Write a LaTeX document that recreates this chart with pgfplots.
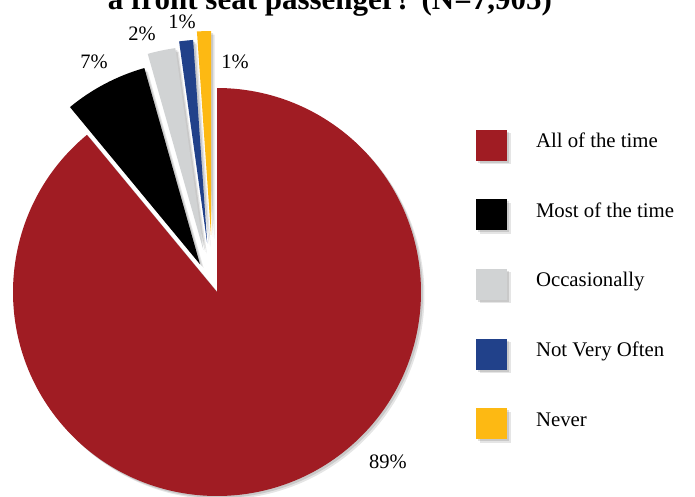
\documentclass[border=0pt]{standalone}
\usepackage{fontspec}
\setmainfont{Liberation Serif}
\usepackage{pgfplots}
\pgfplotsset{compat=1.18}
\usetikzlibrary{calc}
\definecolor{c1}{HTML}{A01C23}
\definecolor{c2}{HTML}{000000}
\definecolor{c3}{HTML}{D1D3D4}
\definecolor{c4}{HTML}{21418A}
\definecolor{c5}{HTML}{FDB913}
% #1 cumulative percent before slice, #2 percent, #3 explode distance (bp), #4 explode direction (deg), #5 colour
\newcommand\sliceshadow[4]{%
  \fill[black,opacity=0.10] ($(axis cs:217,205)+(#4:#3bp)+(3.5bp,-3.5bp)$) -- ++({90+3.6*#1}:204bp)
    arc[start angle={90+3.6*#1}, end angle={90+3.6*(#1+#2)}, radius=204bp] -- cycle;
  \fill[black,opacity=0.12] ($(axis cs:217,205)+(#4:#3bp)+(2bp,-2bp)$) -- ++({90+3.6*#1}:204bp)
    arc[start angle={90+3.6*#1}, end angle={90+3.6*(#1+#2)}, radius=204bp] -- cycle;}
\newcommand\slicefill[5]{%
  \fill[#5] ($(axis cs:217,205)+(#4:#3bp)$) -- ++({90+3.6*#1}:204bp)
    arc[start angle={90+3.6*#1}, end angle={90+3.6*(#1+#2)}, radius=204bp] -- cycle;}
\begin{document}
\begin{tikzpicture}
\useasboundingbox (0,0) rectangle (695bp,497bp);
\clip (0,0) rectangle (695bp,497bp);
\begin{axis}[
  at={(0,0)}, anchor=south west,
  x=1bp, y=1bp, xmin=0, xmax=695, ymin=0, ymax=497,
  hide axis, clip=false,
  legend cell align=left,
  legend image code/.code={%
    \fill[black,opacity=0.10] (3.5bp,-19bp) rectangle (34.5bp,12bp);
    \fill[black,opacity=0.12] (2bp,-17.5bp) rectangle (33bp,13.5bp);
    \fill[#1] (0bp,-15.5bp) rectangle (31bp,15.5bp);},
  legend style={at={(axis cs:476,367.5)}, anchor=north west, draw=none, fill=none,
    inner sep=0pt, outer sep=0pt, row sep=35.2bp, column sep=25.5bp,
    font=\fontsize{20.8bp}{24bp}\selectfont,
    nodes={inner sep=0pt, text height=0.75em, text depth=0.25em}},
]
% data: All of the time 89.0, Most of the time 6.6, Occasionally 2.2, Not Very Often 1.1, Never 1.1
\sliceshadow{11}{89}{0}{0}
\sliceshadow{4.4}{6.6}{32.5}{121.5}
\sliceshadow{2.2}{2.2}{44}{108}
\sliceshadow{1.1}{1.1}{49.5}{101.4}
\sliceshadow{0}{1.1}{57.3}{96}
\slicefill{11}{89}{0}{0}{c1}
\slicefill{4.4}{6.6}{32.5}{121.5}{c2}
\slicefill{2.2}{2.2}{44}{108}{c3}
\slicefill{1.1}{1.1}{49.5}{101.4}{c4}
\slicefill{0}{1.1}{57.3}{96}{c5}
\addlegendimage{fill=c1,draw=none}
\addlegendentry{All of the time}
\addlegendimage{fill=c2,draw=none}
\addlegendentry{Most of the time}
\addlegendimage{fill=c3,draw=none}
\addlegendentry{Occasionally}
\addlegendimage{fill=c4,draw=none}
\addlegendentry{Not Very Often}
\addlegendimage{fill=c5,draw=none}
\addlegendentry{Never}
\begin{scope}[every node/.style={font=\fontsize{20.5bp}{24bp}\selectfont, inner sep=0pt}]
\node at (axis cs:388,35) {89\%};
\node at (axis cs:94,435) {7\%};
\node at (axis cs:142,463) {2\%};
\node at (axis cs:182,475) {1\%};
\node at (axis cs:235,435) {1\%};
\end{scope}
\node[anchor=base, font=\fontsize{31bp}{34bp}\selectfont\bfseries] at (axis cs:330,487) {a front seat passenger? (N=7,905)};
\end{axis}
\end{tikzpicture}
\end{document}
